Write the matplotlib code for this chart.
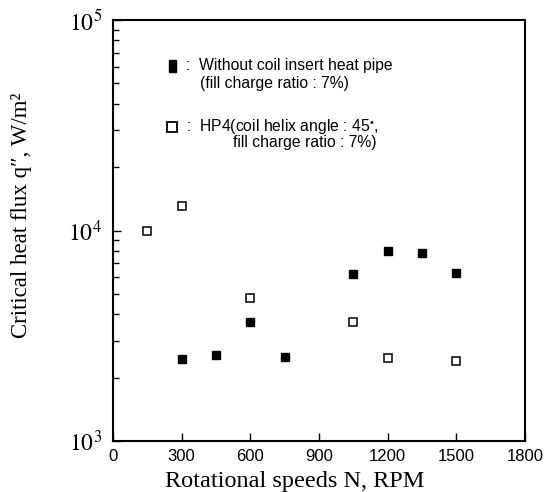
import numpy as np
import matplotlib
matplotlib.use("Agg")
import matplotlib.pyplot as plt
from matplotlib.ticker import FuncFormatter
from matplotlib.patches import Rectangle

# data
rpm_plain = [300, 450, 600, 750, 1050, 1200, 1350, 1500]
chf_plain = [2460, 2560, 3660, 2510, 6200, 8000, 7850, 6270]

rpm_hp4 = [150, 300, 600, 1050, 1200, 1500]
chf_hp4 = [9950, 13100, 4800, 3660, 2490, 2410]

xticks = [0, 300, 600, 900, 1200, 1500, 1800]

plt.rcParams['mathtext.fontset'] = 'stix'
serif = 'Liberation Serif'
sans = 'Liberation Sans'

fig = plt.figure(figsize=(5.46, 4.92), dpi=100)
ax = fig.add_axes([113/546, 1 - 441/492, 412/546, 421/492])

ax.plot(rpm_plain, chf_plain, 's', color='black', markersize=5.5, linestyle='none')
ax.plot(rpm_hp4, chf_hp4, 's', markerfacecolor='white', markeredgecolor='black',
        markeredgewidth=1.1, markersize=5.5, linestyle='none')

ax.set_yscale('log')
ax.set_ylim(1e3, 1e5)
ax.set_xlim(0, 1800)
ax.set_xticks(xticks)
ax.set_xticklabels([str(t) for t in xticks], fontfamily=sans, fontsize=12)
ax.yaxis.set_major_formatter(FuncFormatter(lambda v, p: r'$\mathrm{10^{%d}}$' % round(np.log10(v))))
for lab in ax.get_yticklabels():
    lab.set_fontsize(17)

ax.tick_params(axis='both', which='major', direction='in', length=6, width=1)
ax.tick_params(axis='y', which='minor', direction='in', length=4, width=1)
ax.tick_params(axis='x', which='both', pad=6)
ax.tick_params(axis='y', which='both', pad=8)
for s in ax.spines.values():
    s.set_linewidth(1.5)

ax.set_xlabel('Rotational speeds N, RPM', fontfamily=serif, fontsize=17.5)
ax.xaxis.set_label_coords(0.442, -0.072)
ax.set_ylabel('Critical heat flux q\u2033, W/m\u00b2', fontfamily=serif, fontsize=16.5)
ax.yaxis.set_label_coords(-0.197, 0.537)

# legend block drawn as text
tr = ax.transAxes
ax.add_patch(Rectangle((0.135, 0.877), 0.018, 0.029, transform=tr, facecolor='black',
                       edgecolor='black', clip_on=False))
ax.text(0.178, 0.891, ':  Without coil insert heat pipe', transform=tr, fontfamily=sans,
        fontsize=11.3, va='center')
ax.text(0.211, 0.850, '(fill charge ratio : 7%)', transform=tr, fontfamily=sans,
        fontsize=11.3, va='center')
ax.plot([0.143], [0.746], 's', markerfacecolor='white', markeredgecolor='black',
        markeredgewidth=1.3, markersize=6.5, transform=tr, clip_on=False)
ax.text(0.178, 0.746, ':  HP4(coil helix angle : 45$^{\\bullet}$,', transform=tr, fontfamily=sans,
        fontsize=11.3, va='center')
ax.text(0.291, 0.708, 'fill charge ratio : 7%)', transform=tr, fontfamily=sans,
        fontsize=11.3, va='center')

fig.savefig('out.png', dpi=100)
